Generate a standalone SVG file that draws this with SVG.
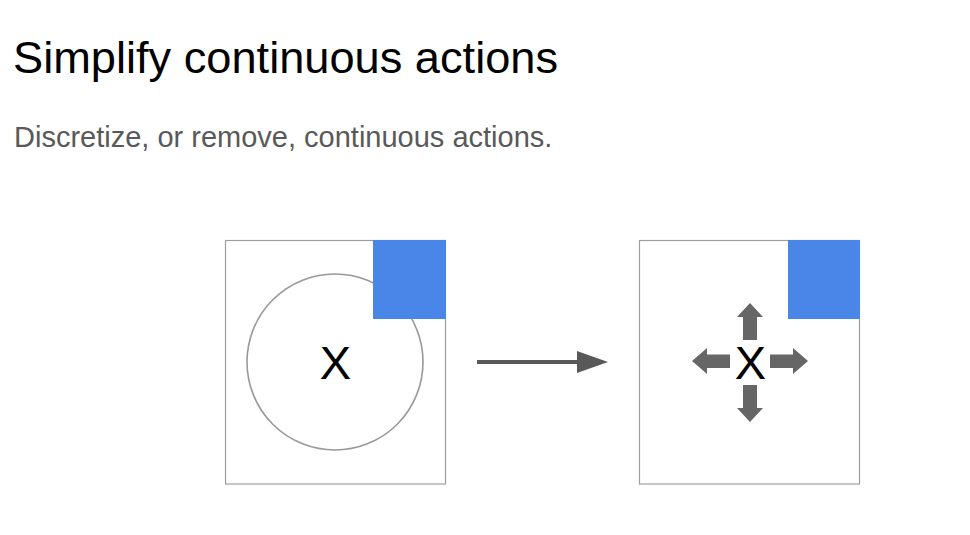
<svg xmlns="http://www.w3.org/2000/svg" width="970" height="535" viewBox="0 0 970 535">
<style>
.title{font-family:"Liberation Sans",Arial,sans-serif;font-size:45.2px;fill:#000}
.sub{font-family:"Liberation Sans",Arial,sans-serif;font-size:29px;fill:#595959}
.box{fill:#fff;stroke:#9e9e9e;stroke-width:1.2}
.blue{fill:#4a86e8}
.x{font-family:"Liberation Sans",Arial,sans-serif;font-size:47px;fill:#000;text-anchor:middle}
.dir{fill:#666}
</style>
<rect width="970" height="535" fill="#fff"/>
<text class="title" x="13" y="73">Simplify continuous actions</text>
<text class="sub" x="14" y="147">Discretize, or remove, continuous actions.</text>
<g id="continuous">
<rect class="box" x="225.5" y="240.5" width="220" height="243.5"/>
<circle cx="335" cy="362" r="88" fill="none" stroke="#999" stroke-width="1.6"/>
<rect class="blue" x="373" y="240" width="73" height="79"/>
<text class="x" x="335.5" y="379">X</text>
</g>
<g id="discrete">
<rect class="box" x="639.5" y="240.5" width="220" height="243.5"/>
<rect class="blue" x="788" y="240" width="72" height="79"/>
<text class="x" x="750.5" y="379">X</text>
<path class="dir" d="M750,303 L763,317 L757,317 L757,340 L743,340 L743,317 L737,317 Z"/>
<path class="dir" d="M750,422 L763,408 L757,408 L757,385 L743,385 L743,408 L737,408 Z"/>
<path class="dir" d="M692,361 L707,348 L707,354.5 L730,354.5 L730,368 L707,368 L707,374 Z"/>
<path class="dir" d="M808,361 L793,348 L793,354.5 L770,354.5 L770,368 L793,368 L793,374 Z"/>
</g>
<g id="connectors">
<path d="M477,362 L577,362" stroke="#595959" stroke-width="4" fill="none"/>
<path d="M577,351 L608,362 L577,373 Z" fill="#595959"/>
</g>
</svg>
